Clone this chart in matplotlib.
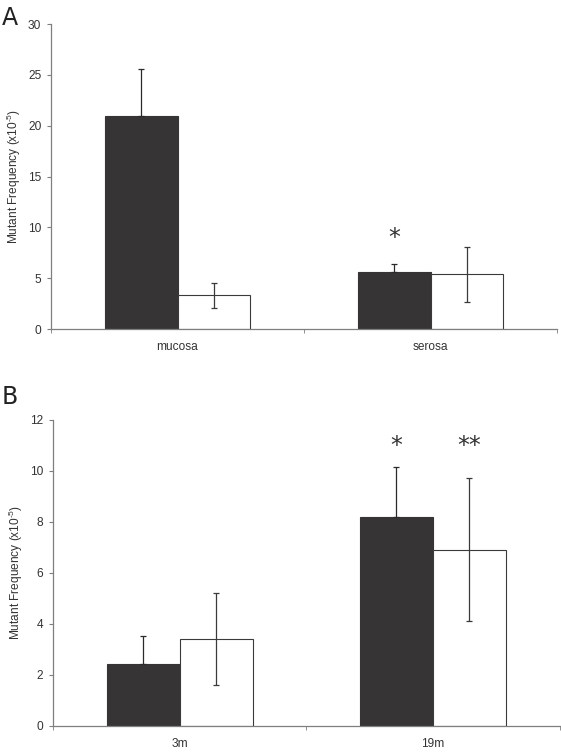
import matplotlib
matplotlib.use("Agg")
import matplotlib.pyplot as plt
import numpy as np

plt.rcParams['font.family'] = ['Liberation Sans', 'DejaVu Sans']
plt.rcParams['mathtext.fontset'] = 'custom'
plt.rcParams['mathtext.rm'] = 'Liberation Sans'
plt.rcParams['mathtext.it'] = 'Liberation Sans'
plt.rcParams['mathtext.bf'] = 'Liberation Sans'

# Panel A data
cats_a = ["mucosa", "serosa"]
dark_a = [21.0, 5.6]
dark_err_a = [4.6, 0.75]
white_a = [3.3, 5.4]
white_err_a = [1.2, 2.7]
stars_a = [("*", 1, 0, 9.0)]  # (text, category index, series 0=dark/1=white, y)
yticks_a = [0, 5, 10, 15, 20, 25, 30]

# Panel B data
cats_b = ["3m", "19m"]
dark_b = [2.4, 8.2]
dark_err_b = [1.1, 1.95]
white_b = [3.4, 6.9]
white_err_b = [1.8, 2.8]
stars_b = [("*", 1, 0, 10.95), ("**", 1, 1, 10.95)]
yticks_b = [0, 2, 4, 6, 8, 10, 12]

DARK = "#363435"
AX = "#7f7f7f"
TXT = "#333333"
FS = 8.6

fig = plt.figure(figsize=(5.61, 7.52), dpi=100)

def panel(rect, cats, dark, derr, white, werr, stars, yticks, letter, letter_pos):
    ax = fig.add_axes(rect)
    x = np.arange(len(cats))
    w = 0.288
    ax.bar(x - w/2, dark, w, color=DARK, edgecolor=DARK, linewidth=0.8, zorder=2)
    ax.bar(x + w/2, white, w, color="white", edgecolor="#3a3a3a", linewidth=0.8, zorder=2)
    ax.errorbar(x - w/2, dark, yerr=[np.zeros(len(derr)), derr], fmt="none", ecolor="#2a2a2a",
                elinewidth=0.9, capsize=2.3, capthick=0.9, zorder=3)
    ax.errorbar(x + w/2, white, yerr=werr, fmt="none", ecolor="#3a3a3a",
                elinewidth=0.9, capsize=2.3, capthick=0.9, zorder=3)
    for t, ci, s, yv in stars:
        xp = x[ci] + (w/2 if s == 1 else -w/2)
        ax.text(xp, yv, t, ha="center", va="center", fontsize=17, color=TXT,
                family="DejaVu Sans")
    ax.set_xlim(-0.5, len(cats) - 0.5)
    ax.set_ylim(yticks[0], yticks[-1])
    ax.set_yticks(yticks)
    ax.set_yticklabels([str(v) for v in yticks], fontsize=FS, color=TXT)
    ax.set_xticks(np.arange(len(cats) + 1) - 0.5, minor=True)
    ax.set_xticks(x)
    ax.set_xticklabels(cats, fontsize=FS, color=TXT)
    ax.tick_params(axis="x", which="major", length=0, pad=9)
    ax.tick_params(axis="x", which="minor", length=3, color=AX, direction="out")
    ax.tick_params(axis="y", length=3, color=AX, direction="out", pad=4)
    for sp in ["top", "right"]:
        ax.spines[sp].set_visible(False)
    for sp in ["left", "bottom"]:
        ax.spines[sp].set_color(AX)
        ax.spines[sp].set_linewidth(0.9)
    ax.set_ylabel(r"Mutant Frequency (x10$^{\text{-5}}$)", fontsize=FS, color=TXT)
    ax.yaxis.set_label_coords(-0.056, 0.5)
    fig.text(letter_pos[0], letter_pos[1], letter, fontsize=17, color="#222222",
             ha="left", va="top", family="DejaVu Sans")
    return ax

panel([0.0909, 0.5625, 0.902, 0.4055], cats_a, dark_a, dark_err_a, white_a, white_err_a,
      stars_a, yticks_a, "A", (0.003, 0.992))
panel([0.0945, 0.035, 0.903, 0.407], cats_b, dark_b, dark_err_b, white_b, white_err_b,
      stars_b, yticks_b, "B", (0.003, 0.488))

fig.savefig("out.png", dpi=100)
